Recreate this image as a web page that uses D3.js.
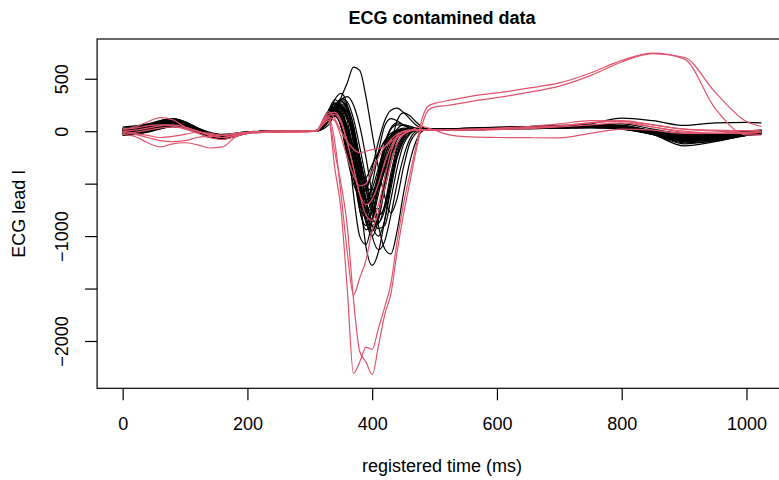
<!DOCTYPE html>
<html>
<head>
<meta charset="utf-8">
<script src="https://cdn.jsdelivr.net/npm/d3@7"></script>
<style>
  body { margin: 0; background: #fff; }
  svg { font-family: "Liberation Sans", Arial, Helvetica, sans-serif; }
</style>
</head>
<body>
<script>
// sample times (ms), denser around the QRS complex
const timeMs = [0,20,40,60,80,100,120,140,160,180,200,240,280,310,
  330,340,350,360,370,380,390,400,410,420,430,440,450,460,470,480,490,500,520,
  560,600,650,700,750,800,850,900,950,1000,1024]

// normal beats (black)
const normalBeats = [
 [-20,-5,30,80,100,70,10,-40,-50,-30,-10,-5,0,0, 60,180,320,460,610,580,330,-20,-350,-620,-780,-640,-350,-120,-20,10,20,20,20, 25,30,40,50,55,40,-20,-70,-50,-10,0],
 [10,20,50,90,110,80,20,-30,-60,-40,-10,0,0,5, 150,300,360,250,-100,-600,-1100,-1280,-1150,-850,-500,-250,-100,-20,10,20,25,25,25, 30,35,45,55,60,50,0,-60,-50,-10,10],
 [-30,-20,0,40,60,50,10,-30,-40,-30,-10,0,0,5, 200,300,250,150,-50,-350,-700,-1000,-1130,-1050,-800,-500,-250,-80,0,20,20,25,25, 30,40,45,50,60,70,20,-30,-40,-20,-10],
 [20,30,60,100,120,90,30,-20,-40,-20,-5,0,0,0, 100,220,300,330,250,50,-250,-600,-900,-1120,-1170,-950,-600,-300,-100,0,20,20,20, 20,25,30,40,45,30,-30,-80,-60,-20,0],
 [0,10,40,70,80,50,0,-40,-50,-30,-10,0,0,5, 150,210,150,-50,-350,-580,-550,-350,-100,100,200,220,180,120,60,30,20,20,20, 20,25,30,35,40,20,-20,-40,-30,0,10],
 [-40,-30,-10,20,40,30,0,-40,-60,-40,-15,-5,0,0, 170,170,50,-200,-450,-650,-700,-500,-200,50,120,100,60,30,15,10,10,15,15, 20,25,30,35,40,30,-10,-50,-40,-10,0],
 [10,20,40,60,70,40,-10,-60,-70,-40,-15,0,0,0, 120,220,250,150,-100,-450,-750,-900,-800,-500,-150,100,175,150,90,40,20,20,20, 25,35,40,45,50,40,10,-20,-30,-10,0],
 [-10,0,20,50,70,60,20,-30,-50,-30,-10,0,0,0, 180,230,180,0,-400,-750,-940,-850,-600,-350,-150,-50,0,10,15,15,15,15,15, 20,25,30,40,45,30,-30,-120,-90,-40,-20],
 [30,40,60,80,90,70,30,-10,-30,-20,-5,0,0,0, 140,150,50,-200,-420,-500,-450,-320,-200,-100,-40,-10,0,10,15,15,15,15,15, 20,25,35,45,70,125,100,55,80,85,80],
 [-20,-10,20,60,80,60,10,-50,-70,-40,-15,-5,0,0, 110,220,280,230,50,-250,-550,-730,-740,-550,-300,-120,-30,10,20,20,20,20,20, 25,30,35,40,50,45,0,-50,-50,-20,-5],
 [0,10,30,60,80,60,10,-40,-50,-30,-10,0,0,0, 190,200,120,-100,-400,-700,-830,-780,-550,-300,-120,-30,0,10,15,15,20,20,20, 20,25,30,35,40,30,-20,-70,-60,-20,0],
 [40,50,70,100,120,90,30,-30,-50,-30,-10,0,0,5, 100,190,220,140,-100,-500,-850,-1000,-850,-550,-250,-80,-10,10,20,20,20,20,20, 20,25,30,35,45,30,-30,-140,-100,-40,-30],
 [-30,-20,0,30,50,40,0,-50,-70,-50,-20,-5,0,0, 140,170,120,-50,-300,-560,-650,-550,-350,-150,-40,0,10,15,15,15,15,15,15, 15,20,25,30,35,20,-30,-60,-40,-10,0],
 [10,20,50,80,100,70,20,-30,-50,-30,-10,0,0,0, 170,260,200,-50,-600,-1000,-1080,-850,-500,-200,-50,0,10,15,20,20,20,20,20, 20,25,30,40,45,35,-10,-60,-50,-20,0],
 [20,30,50,70,80,60,10,-40,-60,-40,-15,0,0,0, 120,190,160,50,-150,-400,-540,-560,-480,-350,-220,-120,-50,-10,10,15,15,20,20, 25,30,40,45,50,40,0,-40,-40,-20,0],
 [-10,0,20,40,50,40,10,-30,-40,-30,-10,0,0,0, 130,140,60,-150,-400,-650,-780,-700,-450,-150,20,60,55,40,30,20,20,20,20, 20,25,35,40,45,40,0,-40,-40,-20,-10],
 [0,10,30,60,80,70,30,-20,-40,-30,-10,0,0,0, 90,220,310,280,120,-150,-450,-700,-870,-750,-450,-180,-50,0,15,20,20,20,20, 20,25,30,40,45,40,-10,-50,-40,-10,0],
 [20,20,40,60,70,50,10,-40,-60,-40,-15,0,0,0, 170,230,210,130,-20,-250,-550,-800,-930,-900,-650,-350,-130,-30,10,20,20,20,20, 20,25,30,35,40,30,-20,-100,-80,-30,-20],
 [-20,-10,10,40,60,50,10,-40,-60,-40,-15,0,0,0, 160,200,140,-50,-350,-600,-700,-620,-400,-180,-50,-5,5,10,15,15,15,15,15, 20,25,30,35,40,30,-20,-70,-60,-20,0],
 [0,10,20,40,50,30,0,-40,-50,-30,-10,0,0,0, 150,160,50,-250,-500,-610,-560,-400,-220,-90,-20,5,10,15,15,15,15,15,15, 15,20,25,30,35,30,-20,-60,-50,-20,0],
 [15,25,45,75,95,75,25,-25,-45,-30,-10,0,0,0, 130,250,290,200,-20,-400,-800,-950,-820,-520,-220,-60,0,15,20,20,20,20,20, 25,30,40,50,55,45,-10,-80,-60,-20,10],
 [-15,-5,25,55,75,55,5,-45,-65,-45,-15,0,0,0, 160,210,170,20,-280,-620,-820,-760,-520,-250,-80,-10,10,15,15,15,15,20,20, 20,25,35,45,50,40,-20,-90,-70,-30,-10],
 [5,15,35,65,85,65,15,-35,-55,-35,-10,0,0,0, 150,240,230,100,-200,-550,-870,-950,-780,-450,-150,0,30,25,20,20,20,20,20, 20,30,35,45,50,35,-25,-110,-90,-40,-10],
 [25,35,55,85,105,80,25,-25,-45,-30,-10,0,0,0, 120,230,300,240,50,-300,-650,-900,-1000,-850,-550,-250,-80,0,20,25,25,25,25, 30,35,40,50,60,55,0,-60,-50,-20,0],
 [-25,-15,10,45,65,50,5,-45,-60,-40,-15,0,0,0, 180,200,130,-80,-380,-680,-760,-650,-420,-180,-40,10,20,20,15,15,15,15,15, 15,20,25,30,35,25,-30,-90,-70,-30,-10],
 [0,5,25,55,75,60,15,-35,-55,-35,-10,0,0,0, 140,180,140,0,-250,-500,-650,-660,-550,-380,-200,-70,-10,10,15,15,15,15,15, 20,25,30,40,50,40,-10,-60,-50,-20,0],
 [10,25,55,95,115,85,25,-25,-45,-30,-10,0,0,0, 110,200,240,180,0,-300,-650,-850,-880,-700,-400,-150,-30,10,20,20,20,20,20, 25,30,40,50,60,50,0,-70,-60,-20,5],
 [-35,-25,-5,25,45,35,0,-55,-75,-50,-20,-5,0,0, 150,190,160,40,-200,-480,-620,-600,-450,-250,-80,20,60,50,30,20,20,20,20, 20,25,30,35,40,30,-20,-80,-60,-20,0],
 [20,30,55,90,110,80,20,-30,-50,-30,-10,0,0,0, 190,270,230,20,-350,-750,-900,-720,-400,-120,30,80,60,30,20,20,20,20,20, 20,25,30,40,50,45,-10,-90,-80,-30,-10],
 [0,15,40,70,85,60,10,-40,-55,-35,-10,0,0,0, 100,200,260,200,0,-250,-500,-720,-800,-720,-480,-220,-60,0,20,20,20,20,20, 25,30,35,45,55,50,-5,-70,-60,-25,-5]
]

// contaminated beats (red)
const contaminatedBeats = [
 [-20,-10,10,30,40,30,0,-30,-40,-20,-10,0,0,5, 100,-350,-750,-1500,-2310,-2200,-2060,-2080,-1880,-1680,-1450,-1050,-700,-420,-150,120,240,265,290, 335,365,410,460,555,675,745,690,215,-35,-35],
 [0,10,30,50,60,40,0,-40,-60,-40,-15,-5,0,0, 120,-200,-500,-900,-1600,-2100,-2200,-2320,-2050,-1750,-1550,-1150,-800,-500,-200,60,200,230,245, 285,320,370,430,530,660,740,705,370,92,45],
 [0,-20,-40,-60,-50,-30,-10,-20,-40,-30,-10,0,0,0, 140,-100,-600,-1150,-1560,-1400,-1230,-950,-780,-550,-300,-120,-30,0,10,10,10,10,10, 15,20,30,50,80,100,60,20,0,-10,-10],
 [-30,-50,-110,-150,-120,-110,-130,-160,-150,-60,-20,-10,-10,0, 130,100,-50,-250,-420,-520,-500,-380,-250,-150,-80,-30,0,10,10,10,10,10,10, 10,15,25,40,60,80,40,0,-20,-20,-10],
 [20,30,50,60,50,20,-20,-60,-80,-50,-20,-10,-10,0, 188,120,0,-100,-170,-206,-190,-175,-165,-150,-100,-60,-30,0,30,45,30,10,-30, -55,-60,-62,-63,-20,20,10,-20,-20,-10,0],
 [-10,-30,-60,-90,-100,-90,-60,-50,-40,-20,-10,0,0,0, 150,160,80,-100,-350,-600,-800,-850,-700,-450,-200,-60,0,10,15,15,15,15,15, 20,30,45,70,100,95,40,-10,-20,-20,-10],
 [20,40,90,130,110,40,0,-40,-60,-40,-15,-5,0,0, 170,180,100,-100,-350,-600,-700,-650,-500,-300,-150,-50,-10,5,10,10,10,10,15, 20,25,35,50,80,95,60,20,10,5,10]
]

const xTicks = [0,200,400,600,800,1000]
const yTicks = [-2000,-1500,-1000,-500,0,500]
const yLabelled = [500,0,-1000,-2000]

const w = 779
const h = 480

const xscale = d3.scaleLinear()
  .domain([-40.96, 1064.96])
  .range([97.1, 787])

const yscale = d3.scaleLinear()
  .domain([-2451, 879])
  .range([388.3, 39])

const svg = d3.select("body")
  .append("svg")
  .attr("width", w)
  .attr("height", h)

const line = d3.line()
  .x((d, i) => xscale(timeMs[i]))
  .y(d => yscale(d))
  .curve(d3.curveMonotoneX)

svg.append("g")
  .selectAll("path")
  .data(normalBeats)
  .enter()
  .append("path")
  .attr("d", line)
  .attr("fill", "none")
  .attr("stroke", "#000")
  .attr("stroke-width", 1.2)

svg.append("g")
  .selectAll("path")
  .data(contaminatedBeats)
  .enter()
  .append("path")
  .attr("d", line)
  .attr("fill", "none")
  .attr("stroke", "#DF536B")
  .attr("stroke-width", 1.2)

// plot box
svg.append("rect")
  .attr("x", xscale(-40.96))
  .attr("y", yscale(879))
  .attr("width", xscale(1064.96) - xscale(-40.96))
  .attr("height", yscale(-2451) - yscale(879))
  .attr("fill", "none")
  .attr("stroke", "#000")
  .attr("stroke-width", 1.2)

const xAxis = d3.axisBottom(xscale)
  .tickValues(xTicks)
  .tickSize(12)
  .tickPadding(17)
  .tickFormat(d3.format("d"))

svg.append("g")
  .attr("transform", "translate(0," + yscale(-2451) + ")")
  .call(xAxis)
  .call(g => g.select(".domain").remove())
  .call(g => g.selectAll("line").attr("stroke", "#000").attr("stroke-width", 1.2))
  .call(g => g.selectAll("text").attr("fill", "#000").style("font-size", "18px"))

const yAxis = d3.axisLeft(yscale)
  .tickValues(yTicks)
  .tickSize(12)
  .tickFormat(d => yLabelled.includes(d) ? d3.format("d")(d) : "")

svg.append("g")
  .attr("transform", "translate(" + xscale(-40.96) + ",0)")
  .call(yAxis)
  .call(g => g.select(".domain").remove())
  .call(g => g.selectAll("line").attr("stroke", "#000").attr("stroke-width", 1.2))
  .call(g => g.selectAll("text")
    .attr("x", null).attr("dy", null)
    .attr("text-anchor", "middle")
    .attr("transform", "translate(-28.8,0) rotate(-90)")
    .attr("fill", "#000")
    .style("font-size", "18px"))

// titles
svg.append("text")
  .attr("x", (xscale(-40.96) + xscale(1064.96)) / 2)
  .attr("y", 23.5)
  .attr("text-anchor", "middle")
  .style("font-size", "18px")
  .style("font-weight", "bold")
  .text("ECG contamined data")

svg.append("text")
  .attr("x", (xscale(-40.96) + xscale(1064.96)) / 2)
  .attr("y", 472)
  .attr("text-anchor", "middle")
  .style("font-size", "18px")
  .text("registered time (ms)")

svg.append("text")
  .attr("transform", "translate(25," + (yscale(-2451) + yscale(879)) / 2 + ") rotate(-90)")
  .attr("text-anchor", "middle")
  .style("font-size", "18px")
  .text("ECG lead I")
</script>
</body>
</html>
